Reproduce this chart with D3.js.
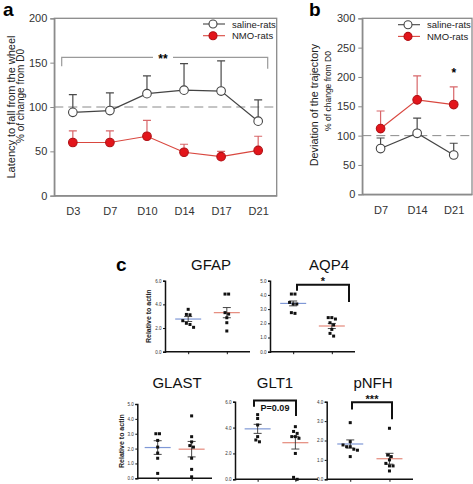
<!DOCTYPE html>
<meta charset="utf-8">
<title>NMO rats</title>
<style>
body { margin: 0; background: #fff; }
text { font-family: Arial, "Liberation Sans", sans-serif; }
</style>
<body>
<script src="https://d3js.org/d3.v7.min.js"></script>
<script>

// ---- data ----
var daysA = ["D3", "D7", "D10", "D14", "D17", "D21"];
var salineA = [94, 96, 115, 119, 118, 84];
var salineAErr = [20, 20, 20, 30, 34, 24];
var nmoA = [60, 60, 67, 49, 44, 51];
var nmoAErr = [13, 13, 18, 9, 6, 16];
var ticksA = [0, 50, 100, 150, 200];

var daysB = ["D7", "D14", "D21"];
var salineB = [78, 104, 67];
var salineBErr = [18, 26, 20];
var nmoB = [112, 161, 153];
var nmoBErr = [30, 41, 30];
var ticksB = [0, 50, 100, 150, 200, 250, 300];

var seriesNames = ["saline-rats", "NMO-rats"];

var cMarkers = ["GFAP", "AQP4", "GLAST", "GLT1", "pNFH"];
var cYMax = [6, 5, 5, 6, 4];
var cTickStep = [2, 1, 1, 2, 1];
var cSalineDots = [
  [3.58, 3.15, 3.12, 2.62, 2.4, 2.3, 2.06],
  [4.06, 4.06, 3.47, 3.36, 3.36, 2.75, 2.7],
  [3.0, 3.0, 2.55, 2.1, 1.7, 1.35, 0.33],
  [5.0, 4.7, 4.2, 3.3, 3.04, 2.9],
  [2.92, 1.94, 1.77, 1.68, 1.68, 1.55, 1.5, 1.17]
];
var cNmoDots = [
  [4.87, 4.87, 3.3, 3.18, 2.87, 2.45, 1.75],
  [2.4, 2.4, 2.3, 2.04, 1.88, 1.57, 1.29, 1.1],
  [4.2, 2.8, 2.45, 2.2, 2.1, 1.35, 0.6, 0.1],
  [4.07, 3.7, 3.55, 3.3, 3.3, 3.17, 2.0, 0.15, 0.0],
  [2.63, 1.25, 1.17, 1.0, 0.82, 0.69, 0.69, 0.43]
];
var cSalineMean = [2.76, 3.4, 2.07, 3.9, 1.82];
var cSalineSem = [0.21, 0.17, 0.46, 0.35, 0.21];
var cNmoMean = [3.3, 1.81, 1.96, 2.83, 1.06];
var cNmoSem = [0.43, 0.18, 0.52, 0.49, 0.28];
var cSig = [null, "*", null, "P=0.09", "***"];

// ---- layout ----
var W = 473, H = 484;
var red = "#e3151b", redLine = "#d9473f", redErr = "#d8676a", grey = "#444";

var svg = d3.select("body").append("svg")
    .attr("width", W)
    .attr("height", H);

function panelLabel(t, x, y) {
  svg.append("text").attr("x", x).attr("y", y)
      .style("font-size", "19px").style("font-weight", "bold")
      .text(t);
}

function linePanel(o) {
  var x = d3.scalePoint().domain(o.days).range([o.x0, o.x1]).padding(0.5),
      y = d3.scaleLinear().domain([0, o.ymax]).range([o.y0, o.y1]);
  var g = svg.append("g");

  // frame
  g.append("rect")
      .attr("x", o.x0).attr("y", o.y1)
      .attr("width", o.x1 - o.x0).attr("height", o.y0 - o.y1)
      .attr("fill", "none").attr("stroke", "#8a8a8a").attr("stroke-width", 1.3);

  var ya = g.append("g").attr("transform", "translate(" + o.x0 + ",0)")
      .call(d3.axisLeft(y).tickValues(o.ticks).tickSize(4).tickPadding(3));
  var xa = g.append("g").attr("transform", "translate(0," + o.y0 + ")")
      .call(d3.axisBottom(x).tickSize(0).tickPadding(12));
  [ya, xa].forEach(function(a) {
    a.select(".domain").attr("stroke", "#8a8a8a").attr("stroke-width", 1.3);
    a.selectAll(".tick line").attr("stroke", "#8a8a8a");
    a.selectAll("text").style("font-size", "11px").attr("fill", "#333")
        .style("font-family", "Arial, 'Liberation Sans', sans-serif");
  });

  // reference line at 100 %
  g.append("line")
      .attr("x1", o.x0).attr("x2", o.x1)
      .attr("y1", y(100)).attr("y2", y(100))
      .attr("stroke", "#8a8a8a").attr("stroke-dasharray", "9,5");

  var series = [
    {v: o.saline, e: o.salineErr, line: grey, err: "#4a4a4a", fill: "#fff", stroke: "#444"},
    {v: o.nmo, e: o.nmoErr, line: redLine, err: redErr, fill: red, stroke: "#b01015"}
  ];
  series.forEach(function(s) {
    var pts = o.days.map(function(d, i) { return {d: d, v: s.v[i], e: s.e[i]}; });
    g.selectAll(null).data(pts).enter().append("path")
        .attr("d", function(p) {
          var cx = x(p.d), top = y(p.v + p.e);
          return "M" + cx + "," + y(p.v) + "V" + top + "M" + (cx - 4) + "," + top + "H" + (cx + 4);
        })
        .attr("stroke", s.err).attr("stroke-width", 1.2).attr("fill", "none");
    g.append("path").datum(pts)
        .attr("d", d3.line().x(function(p) { return x(p.d); }).y(function(p) { return y(p.v); }))
        .attr("fill", "none").attr("stroke", s.line).attr("stroke-width", 1.2);
  });
  series.forEach(function(s) {
    g.selectAll(null).data(o.days).enter().append("circle")
        .attr("cx", function(d) { return x(d); })
        .attr("cy", function(d, i) { return y(s.v[i]); })
        .attr("r", 4.3)
        .attr("fill", s.fill).attr("stroke", s.stroke).attr("stroke-width", 1.1);
  });

  // legend
  series.forEach(function(s, i) {
    var ly = o.legY + i * 11.7;
    g.append("line").attr("x1", o.legX).attr("x2", o.legX + 22)
        .attr("y1", ly).attr("y2", ly).attr("stroke", s.line).attr("stroke-width", 1.1);
    g.append("circle").attr("cx", o.legX + 10).attr("cy", ly).attr("r", 4)
        .attr("fill", s.fill).attr("stroke", s.stroke).attr("stroke-width", 1.1);
    g.append("text").attr("x", o.legX + 29).attr("y", ly + 3.5)
        .style("font-size", "9.5px").attr("fill", "#222").text(seriesNames[i]);
  });

  // axis titles
  g.append("text")
      .attr("transform", "translate(" + o.t1x + "," + o.t1y + ")rotate(-90)")
      .attr("text-anchor", "middle")
      .style("font-size", o.t1s + "px").attr("fill", "#222").text(o.title);
  g.append("text")
      .attr("transform", "translate(" + o.t2x + "," + o.t2y + ")rotate(-90)")
      .attr("text-anchor", "middle")
      .style("font-size", o.t2s + "px").attr("fill", "#222").text("% of change from D0");

  return {g: g, x: x, y: y};
}

// ---- panel a ----
panelLabel("a", 3, 16);
var pa = linePanel({
  days: daysA, saline: salineA, salineErr: salineAErr, nmo: nmoA, nmoErr: nmoAErr,
  ticks: ticksA, ymax: 200, x0: 54.3, x1: 276.7, y0: 195.7, y1: 18.3,
  legX: 203, legY: 24,
  title: "Latency to fall from the wheel", t1x: 14.5, t1y: 107, t1s: 11,
  t2x: 24, t2y: 96, t2s: 10
});
(function() {
  var y = pa.y, by = y(156), xl = 61.7, xr = 267.7, mid = 163;
  pa.g.append("path")
      .attr("d", "M" + xl + "," + y(146) + "V" + by + "H" + (mid - 10) +
                 "M" + (mid + 10) + "," + by + "H" + xr + "V" + y(143))
      .attr("fill", "none").attr("stroke", "#9a9a9a").attr("stroke-width", 1.2);
  pa.g.append("text").attr("x", mid).attr("y", by + 6).attr("text-anchor", "middle")
      .style("font-size", "12px").style("font-weight", "bold").text("**");
})();

// ---- panel b ----
panelLabel("b", 309, 16);
var pb = linePanel({
  days: daysB, saline: salineB, salineErr: salineBErr, nmo: nmoB, nmoErr: nmoBErr,
  ticks: ticksB, ymax: 300, x0: 362.3, x1: 472, y0: 194.3, y1: 18.3,
  legX: 398, legY: 24.7,
  title: "Deviation of the trajectory", t1x: 318, t1y: 105, t1s: 10.8,
  t2x: 331, t2y: 91, t2s: 8.5
});
pb.g.append("text").attr("x", pb.x("D21")).attr("y", pb.y(200))
    .attr("text-anchor", "middle").style("font-size", "12px").style("font-weight", "bold")
    .text("*");

// ---- panel c ----
panelLabel("c", 116, 271);

var cLayout = [
  {x0: 165, x1: 250, top: 280.7, bot: 351.7, tx: 211, ty: 270, lab: 151},
  {x0: 270, x1: 355, top: 280.7, bot: 351.7, tx: 329, ty: 270,
   br: {l: 297, r: 349, y: 4.72, yl: 4.3, yr: 3.5, ty: 285}},
  {x0: 137.3, x1: 212, top: 404, bot: 478.3, tx: 177, ty: 388, lab: 124},
  {x0: 235, x1: 318, top: 401.7, bot: 479.3, tx: 275, ty: 388,
   br: {l: 254, r: 296, y: 6.1, yl: 5.6, yr: 4.9, ty: 410.5, inside: true}},
  {x0: 326.7, x1: 413, top: 401.7, bot: 479.3, tx: 373, ty: 388,
   br: {l: 352, r: 392, y: 3.97, yl: 3.6, yr: 3.1, ty: 403}}
];

function jitter(vals, y) {
  var idx = d3.range(vals.length).sort(function(a, b) { return vals[b] - vals[a]; }),
      off = new Array(vals.length).fill(0), i = 0;
  while (i < idx.length) {
    var j = i + 1;
    while (j < idx.length && Math.abs(y(vals[idx[j]]) - y(vals[idx[j - 1]])) < 3.2) j++;
    for (var k = i; k < j; k++) off[idx[k]] = (k - i - (j - i - 1) / 2) * 3.6;
    i = j;
  }
  return off;
}

cMarkers.forEach(function(name, m) {
  var L = cLayout[m];
  var x = d3.scalePoint().domain(["saline", "nmo"]).range([L.x0, L.x1]).padding(0.6),
      y = d3.scaleLinear().domain([0, cYMax[m]]).range([L.bot, L.top]);
  var g = svg.append("g");

  var ya = g.append("g").attr("transform", "translate(" + L.x0 + ",0)")
      .call(d3.axisLeft(y).tickValues(d3.range(0, cYMax[m] + 0.01, cTickStep[m]))
          .tickSize(2).tickPadding(1.5));
  var xa = g.append("g").attr("transform", "translate(0," + L.bot + ")")
      .call(d3.axisBottom(x).tickSize(2.5).tickFormat(""));
  xa.select(".domain").attr("d", "M" + L.x0 + ",0H" + L.x1);
  [ya, xa].forEach(function(a) {
    a.select(".domain").attr("stroke", "#111").attr("stroke-width", 1.5);
    a.selectAll(".tick line").attr("stroke", "#111");
    a.selectAll("text").style("font-size", "4.5px").attr("fill", "#333");
  });

  g.append("text").attr("x", L.tx).attr("y", L.ty).attr("text-anchor", "middle")
      .style("font-size", "15px").attr("fill", "#111").text(name);

  if (L.lab) {
    g.append("text")
        .attr("transform", "translate(" + L.lab + "," + ((L.top + L.bot) / 2) + ")rotate(-90)")
        .attr("text-anchor", "middle")
        .style("font-size", "7px").style("font-weight", "bold").attr("fill", "#222")
        .text("Relative to actin");
  }

  var groups = [
    {k: "saline", dots: cSalineDots[m], mean: cSalineMean[m], sem: cSalineSem[m], col: "#7f98d6"},
    {k: "nmo", dots: cNmoDots[m], mean: cNmoMean[m], sem: cNmoSem[m], col: "#e5897b"}
  ];
  groups.forEach(function(s) {
    var cx = x(s.k);
    g.append("line").attr("x1", cx - 13).attr("x2", cx + 13)
        .attr("y1", y(s.mean)).attr("y2", y(s.mean))
        .attr("stroke", s.col).attr("stroke-width", 1.2);
    var t = y(s.mean + s.sem), b = y(s.mean - s.sem);
    g.append("path")
        .attr("d", "M" + cx + "," + t + "V" + b +
                   "M" + (cx - 4) + "," + t + "H" + (cx + 4) +
                   "M" + (cx - 4) + "," + b + "H" + (cx + 4))
        .attr("stroke", "#333").attr("stroke-width", 0.9).attr("fill", "none");
    var off = jitter(s.dots, y);
    g.selectAll(null).data(s.dots).enter().append("rect")
        .attr("x", function(d, i) { return cx + off[i] - 1.5; })
        .attr("y", function(d) { return y(d) - 1.5; })
        .attr("width", 3).attr("height", 3)
        .attr("fill", "#111");
  });

  if (L.br) {
    var B = L.br;
    g.append("path")
        .attr("d", "M" + B.l + "," + y(B.yl) + "V" + y(B.y) + "H" + B.r + "V" + y(B.yr))
        .attr("fill", "none").attr("stroke", "#111").attr("stroke-width", 2);
    g.append("text").attr("x", (B.l + B.r) / 2).attr("y", B.ty).attr("text-anchor", "middle")
        .style("font-size", B.inside ? "9px" : "11px").style("font-weight", "bold")
        .attr("fill", "#111").text(cSig[m]);
  }
});

</script>
